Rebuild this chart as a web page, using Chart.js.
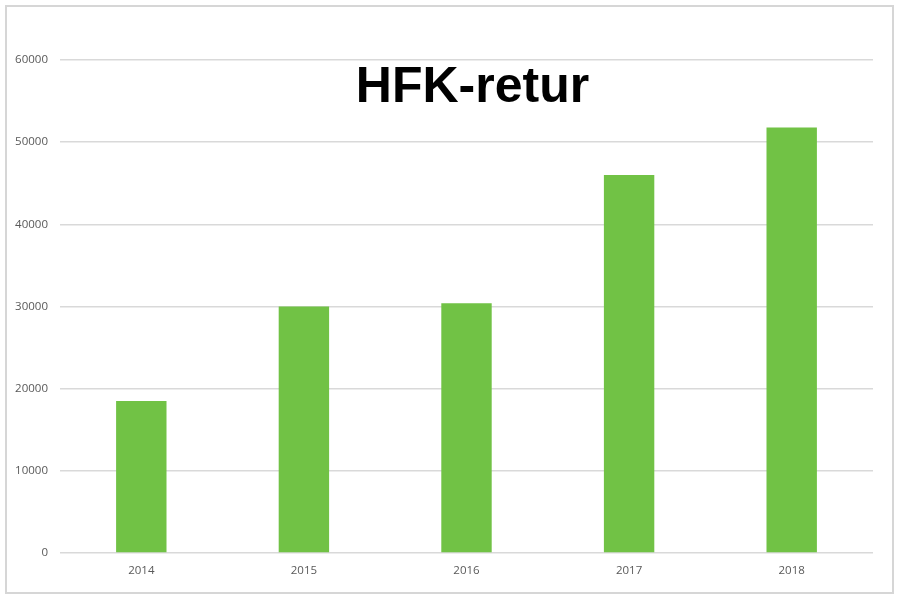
<!DOCTYPE html>
<html>
<head>
<meta charset="utf-8">
<script src="https://cdn.jsdelivr.net/npm/chart.js@4.4.1/dist/chart.umd.min.js"></script>
<style>
  html, body { margin: 0; padding: 0; background: #ffffff; }
  #wrap { position: relative; width: 900px; height: 600px; }
</style>
</head>
<body>
<div id="wrap"><canvas id="c" width="900" height="600"></canvas></div>
<script>
const titleText = 'HFK-retur';
const categories = ['2014', '2015', '2016', '2017', '2018'];
const values = [18500, 30000, 30400, 46000, 51800];
const yMin = 0, yMax = 60000, yStep = 10000;

const framePlugin = {
  id: 'frame',
  beforeDraw(chart) {
    const ctx = chart.ctx;
    ctx.save();
    ctx.fillStyle = '#ffffff';
    ctx.fillRect(0, 0, chart.width, chart.height);
    ctx.strokeStyle = '#d6d6d6';
    ctx.lineWidth = 2;
    ctx.strokeRect(6, 6, chart.width - 13, chart.height - 13);
    ctx.restore();
  }
};

const titlePlugin = {
  id: 'innerTitle',
  afterDraw(chart) {
    const a = chart.chartArea;
    const ctx = chart.ctx;
    ctx.save();
    ctx.font = 'bold 50px "Liberation Sans", Arial, sans-serif';
    ctx.fillStyle = '#000000';
    ctx.textAlign = 'center';
    ctx.textBaseline = 'alphabetic';
    ctx.fillText(titleText, (a.left + a.right) / 2 + 6, a.top + 42);
    ctx.restore();
  }
};

new Chart(document.getElementById('c'), {
  type: 'bar',
  data: {
    labels: categories,
    datasets: [{
      data: values,
      backgroundColor: '#71c245',
      borderWidth: 0,
      categoryPercentage: 1.0,
      barPercentage: 0.31
    }]
  },
  options: {
    responsive: false,
    animation: false,
    devicePixelRatio: 1,
    layout: { padding: { top: 60, right: 27, left: 0, bottom: 0 } },
    plugins: { legend: { display: false }, title: { display: false }, tooltip: { enabled: false } },
    scales: {
      x: {
        grid: { display: false, drawTicks: false },
        border: { display: false },
        ticks: { color: '#595959', font: { family: '"Open Sans", sans-serif', size: 11.5 }, padding: 11 },
        afterFit(s) { s.height = 47; }
      },
      y: {
        min: yMin, max: yMax,
        grid: { color: '#d9d9d9', lineWidth: 1.5, drawTicks: false },
        border: { display: false },
        ticks: {
          stepSize: yStep, color: '#595959',
          font: { family: '"Open Sans", sans-serif', size: 11.5 }, padding: 12,
          callback: (v) => String(v)
        },
        afterFit(s) { s.width = 60; }
      }
    }
  },
  plugins: [framePlugin, titlePlugin]
});
</script>
</body>
</html>
